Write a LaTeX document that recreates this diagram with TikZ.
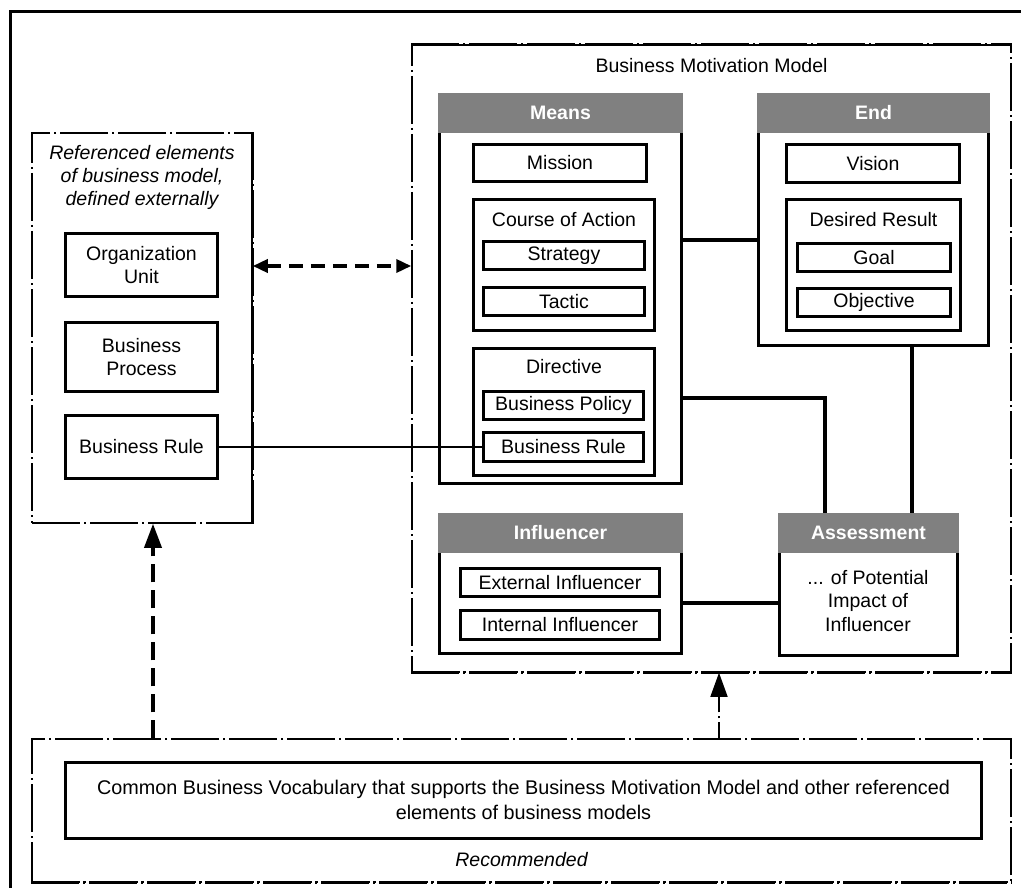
\documentclass[tikz,border=0pt]{standalone}
\usepackage{fontspec}
\setmainfont{Liberation Sans}
\usetikzlibrary{arrows.meta}
\definecolor{hdrgray}{RGB}{128,128,128}

\begin{document}
\begin{tikzpicture}[x=1pt, y=-1pt,
  every node/.style={font=\fontsize{19.5}{23.5}\selectfont, inner sep=0pt, align=center},
  sz/.style 2 args={minimum width=#1pt, minimum height=#2pt},
  box/.style={draw, line width=3pt, rectangle},
  hdr/.style={fill=hdrgray, text=white, font=\fontsize{19.5}{23.5}\selectfont\bfseries},
  itnode/.style={font=\fontsize{19.5}{23}\selectfont\itshape},
  dashdot/.style={line width=1.5pt, dash pattern=on 48pt off 4pt on 2pt off 4pt},
  group/.style={draw, dashdot},
  link/.style={line width=3.5pt},
  thinlink/.style={line width=1.5pt},
  depends/.style={line width=3.5pt, dash pattern=on 18pt off 8pt},
  bigtip/.style={-{Triangle[length=24pt,width=17pt]}},
]
\useasboundingbox (0,0) rectangle (1021,888);

% outer frame (only its top and left edges fall inside the page)
\draw[line width=3pt] (10,888) -- (10,12) -- (1021,12);

% ---- externally defined elements ----
\node[group, sz={220}{390}] (refbox) at (142,328) {};
\node[itnode] (reftitle) at (142,177.5) {Referenced elements\\of business model,\\defined externally};
\node[box, sz={152}{63}] (orgunit) at (141.5,265) {Organization\\Unit};
\node[box, sz={152}{69}] (bizproc) at (141.5,357) {Business\\Process};
\node[box, sz={152}{63}] (refrule) at (141.5,447) {Business Rule};

% ---- Business Motivation Model ----
\node[group, sz={599}{627}] (bmm) at (711.5,358.5) {};
\node (bmmtitle) at (711.5,66) {Business Motivation Model};

% Means
\node[box, sz={242}{389}] (means) at (560.5,289) {};
\node[hdr, sz={245}{40}] (meansh) at (560.5,113) {Means};
\node[box, sz={173}{37}] (mission) at (560,163) {Mission};
\node[box, sz={181}{131}] (coa) at (564,265) {};
\node (coat) at (564,220) {Course of Action};
\node[box, sz={161}{28}] (strategy) at (564,255.5) {Strategy};
\node[box, sz={161}{28}] (tactic) at (564,301.5) {Tactic};
\node[box, sz={181}{127}] (directive) at (564,412) {};
\node (directivet) at (564,367) {Directive};
\node[box, sz={160}{28}] (policy) at (563.5,405.5) {Business Policy};
\node[box, sz={160}{29}] (rule) at (563.5,447) {Business Rule};

% End
\node[box, sz={230}{251}] (endb) at (873.5,220) {};
\node[hdr, sz={233}{40}] (endh) at (873.5,113) {End};
\node[box, sz={173}{38}] (vision) at (873,163.5) {Vision};
\node[box, sz={174}{131}] (desired) at (873.5,265) {};
\node (desiredt) at (873.5,220) {Desired Result};
\node[box, sz={153}{28}] (goal) at (874,257.5) {Goal};
\node[box, sz={153}{28}] (objective) at (874,302.5) {Objective};

% Influencer
\node[box, sz={242}{139}] (infl) at (560.5,584) {};
\node[hdr, sz={245}{40}] (inflh) at (560.5,533) {Influencer};
\node[box, sz={199}{28}] (extinfl) at (560,582.5) {External Influencer};
\node[box, sz={199}{29}] (intinfl) at (560,625) {Internal Influencer};

% Assessment
\node[box, sz={178}{141}] (assess) at (868.5,585) {};
\node[hdr, sz={181}{40}] (assessh) at (868.5,533) {Assessment};
\node (assesst) at (868,601) {... of Potential\\Impact of\\Influencer};

% ---- common vocabulary ----
\node[group, sz={979}{143}] (common) at (521.5,810.5) {};
\node[box, sz={916}{76}, font=\fontsize{19.8}{24.5}\selectfont] (vocab) at (523.5,800) {Common Business Vocabulary that supports the Business Motivation Model and other referenced\\elements of business models};
\node[itnode] (recommended) at (521.5,860) {Recommended};

% heavier edges of the dash-dot groups
\draw[dashdot, line width=3pt] (refbox.north east) -- (refbox.south east);
\draw[dashdot, line width=3pt] (bmm.north west) -- (bmm.north east);
\draw[dashdot, line width=3pt] (bmm.south west) -- (bmm.south east);
\draw[dashdot, line width=3pt] (common.south west) -- (common.south east);

% ---- connectors ----
\draw[link] (means.east |- 0,240) -- (endb.west |- 0,240);
\draw[link] (means.east |- 0,398) -| (assessh.north -| 825,0);
\draw[link] (endb.south -| 912,0) -- (assessh.north -| 912,0);
\draw[link, line width=4.5pt] (infl.east |- 0,603) -- (assess.west |- 0,603);
\draw[thinlink] (refrule.east) -- (rule.west);

\draw[line width=3.5pt, dash pattern=on 14pt off 8pt,
  {Triangle[length=15pt,width=13pt]}-{Triangle[length=15pt,width=13pt]}]
  (refbox.east |- 0,266) -- (bmm.west |- 0,266);
\draw[depends, bigtip] (common.north -| 153,0) -- (refbox.south -| 153,0);
\draw[dashdot, dash phase=32pt, bigtip] (common.north -| 719,0) -- (bmm.south -| 719,0);
\end{tikzpicture}
\end{document}
